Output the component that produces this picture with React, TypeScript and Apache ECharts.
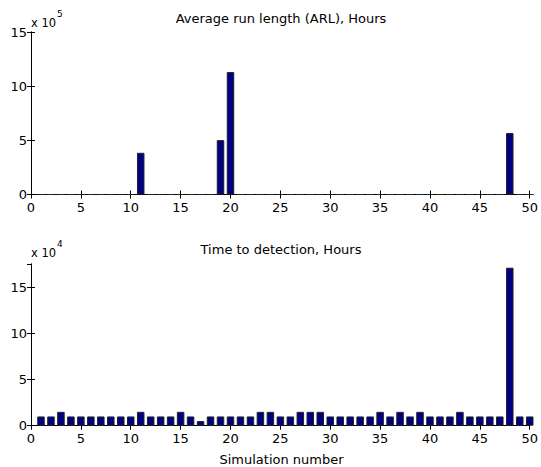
import React, { useEffect, useRef } from "react";
import * as echarts from "echarts";

// Simulation numbers 1..50
const simulations: number[] = Array.from({ length: 50 }, (_, i) => i + 1);

// Average run length (hours)
const arlHours: number[] = [
  0, 0, 0, 0, 0, 0, 0, 0, 0, 0,
  385000, 0, 0, 0, 0, 0, 0, 0, 502000, 1130000,
  0, 0, 0, 0, 0, 0, 0, 0, 0, 0,
  0, 0, 0, 0, 0, 0, 0, 0, 0, 0,
  0, 0, 0, 0, 0, 0, 0, 567000, 0, 0,
];

// Time to detection (hours)
const detectionHours: number[] = [
  10000, 10000, 15000, 10000, 10000, 10000, 10000, 10000, 10000, 10000,
  15000, 10000, 10000, 10000, 15000, 10000, 5000, 10000, 10000, 10000,
  10000, 10000, 15000, 15000, 10000, 10000, 15000, 15000, 15000, 10000,
  10000, 10000, 10000, 10000, 15000, 10000, 15000, 10000, 15000, 10000,
  10000, 10000, 15000, 10000, 10000, 10000, 10000, 171000, 10000, 10000,
];

const arlScale = 1e5;
const detScale = 1e4;

const FONT = "DejaVu Sans";

export default function App() {
  const ref = useRef<HTMLDivElement>(null);

  useEffect(() => {
    if (!ref.current) return;
    const chart = echarts.init(ref.current, undefined, { renderer: "svg" });

    const axisLine = { show: true, lineStyle: { color: "#000", width: 1 } };
    const tick = { show: true, inside: true, length: 4, lineStyle: { color: "#000" } };
    const lbl = { color: "#000", fontFamily: FONT, fontSize: 13 };

    const xBase = (gridIndex: number, pos: "bottom" | "top", showLabel: boolean) => ({
      type: "value",
      gridIndex,
      position: pos,
      min: 0,
      max: 50,
      interval: 5,
      axisLine,
      axisTick: tick,
      splitLine: { show: false },
      axisLabel: showLabel ? { ...lbl, margin: 6 } : { show: false },
    });

    const yBase = (gridIndex: number, pos: "left" | "right", max: number, showLabel: boolean) => ({
      type: "value",
      gridIndex,
      position: pos,
      min: 0,
      max,
      interval: 5,
      axisLine,
      axisTick: tick,
      splitLine: { show: false },
      axisLabel: showLabel
        ? { ...lbl, margin: 4, showMaxLabel: max % 5 === 0 }
        : { show: false },
    });

    const barStyle = { color: "#000085", borderColor: "#222", borderWidth: 1 };

    const txt = (text: string, x: number, y: number, size: number, align: string) => ({
      type: "text",
      x,
      y,
      style: {
        text,
        font: `${size}px '${FONT}'`,
        fill: "#000",
        textAlign: align,
        textVerticalAlign: "middle",
      },
    });

    chart.setOption({
      animation: false,
      backgroundColor: "#fff",
      grid: [
        { left: 31, right: 8, top: 32, height: 162.5 },
        { left: 31, right: 8, top: 264, height: 161.7 },
      ],
      xAxis: [
        xBase(0, "bottom", true),
        xBase(0, "top", false),
        xBase(1, "bottom", true),
        xBase(1, "top", false),
      ],
      yAxis: [
        yBase(0, "left", 15, true),
        yBase(0, "right", 15, false),
        yBase(1, "left", 17.5, true),
        yBase(1, "right", 17.5, false),
      ],
      series: [
        {
          type: "bar",
          xAxisIndex: 0,
          yAxisIndex: 0,
          barWidth: 7.5,
          clip: true,
          itemStyle: barStyle,
          data: simulations.map((s, i) => [s, arlHours[i] / arlScale]),
        },
        {
          type: "bar",
          xAxisIndex: 2,
          yAxisIndex: 2,
          barWidth: 7.5,
          clip: true,
          itemStyle: barStyle,
          data: simulations.map((s, i) => [s, detectionHours[i] / detScale]),
        },
      ],
      graphic: [
        txt("Average run length (ARL), Hours", 281, 18.5, 13, "center"),
        txt("x 10", 31, 23, 11.5, "left"),
        txt("5", 57, 14, 9, "left"),
        txt("Time to detection, Hours", 281, 249, 13, "center"),
        txt("x 10", 31, 253, 11.5, "left"),
        txt("4", 57, 244, 9, "left"),
        txt("Simulation number", 281.5, 459, 13, "center"),
      ],
    });

    return () => chart.dispose();
  }, []);

  return (
    <div
      ref={ref}
      style={{ width: 541, height: 467, position: "absolute", left: 0, top: 0, background: "#fff" }}
    />
  );
}
